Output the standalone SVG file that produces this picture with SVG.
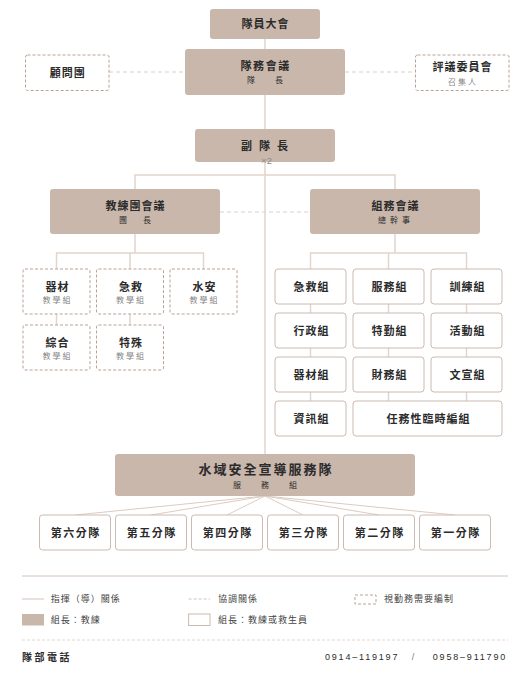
<svg xmlns="http://www.w3.org/2000/svg" width="530" height="687" viewBox="0 0 530 687">
<style>
text{font-family:'Liberation Sans','Noto Sans CJK TC',sans-serif;fill:#2b2b2b;text-anchor:middle}
.t{font-size:11px;font-weight:bold;letter-spacing:1px}
.s{font-size:8px;letter-spacing:0}
.g{font-size:8px;fill:#858585;letter-spacing:2px}
.tan{fill:#c9b7ab}
.dash{fill:#fff;stroke:#b9a194;stroke-width:1;stroke-dasharray:3 2}
.box{fill:#fff;stroke:#cdbab0;stroke-width:1}
.ln{stroke:#e2d5cc;stroke-width:1.5;fill:none}
.fan{stroke:#dccbc0;stroke-width:1;fill:none}
.co{stroke:#ddd0c7;stroke-width:1.2;stroke-dasharray:4 3;fill:none}
.lg{font-size:9px;letter-spacing:1px;text-anchor:start;fill:#444}
</style>
<g id="connectors">
<line class="ln" x1="265" y1="39" x2="265" y2="454"/>
<line class="co" x1="109" y1="72" x2="185" y2="72"/>
<line class="co" x1="345" y1="72" x2="415.5" y2="72"/>
<polyline class="ln" points="135,189 135,175 395,175 395,189"/>
<line class="co" x1="220" y1="212" x2="310" y2="212"/>
<line class="ln" x1="135" y1="234" x2="135" y2="253"/>
<polyline class="ln" points="56.5,269 56.5,253 203.5,253 203.5,269"/>
<line class="ln" x1="130" y1="253" x2="130" y2="269"/>
<line class="ln" x1="56.5" y1="314" x2="56.5" y2="325"/>
<line class="ln" x1="130" y1="314" x2="130" y2="325"/>
<line class="ln" x1="395" y1="234" x2="395" y2="253"/>
<polyline class="ln" points="310.5,269 310.5,253 466.5,253 466.5,269"/>
<line class="ln" x1="388.5" y1="253" x2="388.5" y2="269"/>
<line class="ln" x1="310.5" y1="304" x2="310.5" y2="401"/>
<line class="ln" x1="388.5" y1="304" x2="388.5" y2="401"/>
<line class="ln" x1="466.5" y1="304" x2="466.5" y2="401"/>
<line class="fan" x1="265" y1="496" x2="75" y2="515"/>
<line class="fan" x1="265" y1="496" x2="151" y2="515"/>
<line class="fan" x1="265" y1="496" x2="227" y2="515"/>
<line class="fan" x1="265" y1="496" x2="303" y2="515"/>
<line class="fan" x1="265" y1="496" x2="379" y2="515"/>
<line class="fan" x1="265" y1="496" x2="455" y2="515"/>
</g>
<g id="n-assembly"><rect class="tan" x="210" y="9" width="110" height="30" rx="3"/><text class="t" x="265.5" y="28">隊員大會</text></g>
<g id="n-council"><rect class="tan" x="185" y="49" width="160" height="46" rx="3"/><text class="t" x="265.7" y="69.5" style="letter-spacing:1.6px">隊務會議</text><text class="s" x="251 279" y="83">隊長</text></g>
<g id="n-advisors"><rect class="dash" x="25.5" y="55" width="83.5" height="35.5" rx="2"/><text class="t" x="67.7" y="76.5">顧問團</text></g>
<g id="n-review"><rect class="dash" x="415.5" y="55" width="93.5" height="35.5" rx="2"/><text class="t" x="462.5" y="70.5">評議委員會</text><text class="g" x="463" y="84.5">召集人</text></g>
<g id="n-deputy"><rect class="tan" x="195" y="129" width="140" height="33" rx="3"/><text class="t" x="247 265 283" y="149.5">副隊長</text><text x="266.5" y="164" style="font-size:9.5px;fill:#8c8c8c">×2</text></g>
<g id="n-coach"><rect class="tan" x="50" y="189" width="170" height="45" rx="3"/><text class="t" x="135.5" y="210">教練團會議</text><text class="s" x="123 147" y="222.5">團長</text></g>
<g id="n-group"><rect class="tan" x="310" y="189" width="170" height="45" rx="3"/><text class="t" x="395.5" y="210">組務會議</text><text class="s" x="396" y="222.5" style="letter-spacing:4px">總幹事</text></g>
<g id="n-c1"><rect class="dash" x="23" y="269" width="67" height="45" rx="2"/><text class="t" x="57.5" y="291">器材</text><text class="g" x="57.5" y="302.5">教學組</text></g>
<g id="n-c2"><rect class="dash" x="96.5" y="269" width="67" height="45" rx="2"/><text class="t" x="131" y="291">急救</text><text class="g" x="131" y="302.5">教學組</text></g>
<g id="n-c3"><rect class="dash" x="170" y="269" width="67" height="45" rx="2"/><text class="t" x="204.5" y="291">水安</text><text class="g" x="204.5" y="302.5">教學組</text></g>
<g id="n-c4"><rect class="dash" x="23" y="325" width="67" height="45" rx="2"/><text class="t" x="57.5" y="347">綜合</text><text class="g" x="57.5" y="358.5">教學組</text></g>
<g id="n-c5"><rect class="dash" x="96.5" y="325" width="67" height="45" rx="2"/><text class="t" x="131" y="347">特殊</text><text class="g" x="131" y="358.5">教學組</text></g>
<g id="n-g1"><rect class="box" x="275" y="269" width="71" height="35" rx="3"/><text class="t" x="311.5" y="290.5">急救組</text></g>
<g id="n-g2"><rect class="box" x="353" y="269" width="71" height="35" rx="3"/><text class="t" x="389.5" y="290.5">服務組</text></g>
<g id="n-g3"><rect class="box" x="431" y="269" width="71" height="35" rx="3"/><text class="t" x="467.5" y="290.5">訓練組</text></g>
<g id="n-g4"><rect class="box" x="275" y="313" width="71" height="35" rx="3"/><text class="t" x="311.5" y="334.5">行政組</text></g>
<g id="n-g5"><rect class="box" x="353" y="313" width="71" height="35" rx="3"/><text class="t" x="389.5" y="334.5">特勤組</text></g>
<g id="n-g6"><rect class="box" x="431" y="313" width="71" height="35" rx="3"/><text class="t" x="467.5" y="334.5">活動組</text></g>
<g id="n-g7"><rect class="box" x="275" y="357" width="71" height="35" rx="3"/><text class="t" x="311.5" y="378.5">器材組</text></g>
<g id="n-g8"><rect class="box" x="353" y="357" width="71" height="35" rx="3"/><text class="t" x="389.5" y="378.5">財務組</text></g>
<g id="n-g9"><rect class="box" x="431" y="357" width="71" height="35" rx="3"/><text class="t" x="467.5" y="378.5">文宣組</text></g>
<g id="n-g10"><rect class="box" x="275" y="401" width="71" height="35" rx="3"/><text class="t" x="311.5" y="422.5">資訊組</text></g>
<g id="n-g11"><rect class="box" x="353" y="401" width="149" height="35" rx="3"/><text class="t" x="428.5" y="422.5">任務性臨時編組</text></g>
<g id="n-water"><rect class="tan" x="115" y="454" width="300" height="42" rx="3"/><text class="t" x="266" y="473.5" style="font-size:13px;letter-spacing:2px">水域安全宣導服務隊</text><text class="s" x="237 265 293" y="487.5">服務組</text></g>
<g id="n-s6"><rect class="box" x="39.5" y="515" width="71" height="35" rx="3"/><text class="t" x="75.7" y="536.5" style="letter-spacing:1.5px">第六分隊</text></g>
<g id="n-s5"><rect class="box" x="115.5" y="515" width="71" height="35" rx="3"/><text class="t" x="151.7" y="536.5" style="letter-spacing:1.5px">第五分隊</text></g>
<g id="n-s4"><rect class="box" x="191.5" y="515" width="71" height="35" rx="3"/><text class="t" x="227.7" y="536.5" style="letter-spacing:1.5px">第四分隊</text></g>
<g id="n-s3"><rect class="box" x="267.5" y="515" width="71" height="35" rx="3"/><text class="t" x="303.7" y="536.5" style="letter-spacing:1.5px">第三分隊</text></g>
<g id="n-s2"><rect class="box" x="343.5" y="515" width="71" height="35" rx="3"/><text class="t" x="379.7" y="536.5" style="letter-spacing:1.5px">第二分隊</text></g>
<g id="n-s1"><rect class="box" x="419.5" y="515" width="71" height="35" rx="3"/><text class="t" x="455.7" y="536.5" style="letter-spacing:1.5px">第一分隊</text></g>
<g id="legend">
<line x1="22" y1="576" x2="508" y2="576" stroke="#d4c2b7" stroke-width="1"/>
<line x1="22" y1="599" x2="44" y2="599" stroke="#d4c2b7" stroke-width="1"/>
<text class="lg" x="50.7" y="602">指揮（導）關係</text>
<line x1="188.6" y1="599" x2="210" y2="599" stroke="#d4c2b7" stroke-width="1" stroke-dasharray="3 2"/>
<text class="lg" x="218" y="602">協調關係</text>
<rect class="dash" x="355" y="595" width="21" height="9"/>
<text class="lg" x="384" y="602">視勤務需要編制</text>
<rect class="tan" x="22" y="614" width="22" height="11.5"/>
<text class="lg" x="50.7" y="623">組長：教練</text>
<rect class="box" x="188.6" y="614" width="21.4" height="11.5"/>
<text class="lg" x="218" y="623">組長：教練或救生員</text>
<line x1="22" y1="640" x2="508" y2="640" stroke="#e2d6ce" stroke-width="1" stroke-dasharray="3 2"/>
<text x="22" y="661" style="font-size:10px;font-weight:bold;letter-spacing:2.5px;text-anchor:start">隊部電話</text>
<text x="325" y="660" style="font-size:9px;letter-spacing:1.8px;text-anchor:start">0914–119197</text>
<text x="413" y="660" style="font-size:9px;fill:#777">/</text>
<text x="507" y="660" style="font-size:9px;letter-spacing:1.8px;text-anchor:end">0958–911790</text>
</g>
</svg>
